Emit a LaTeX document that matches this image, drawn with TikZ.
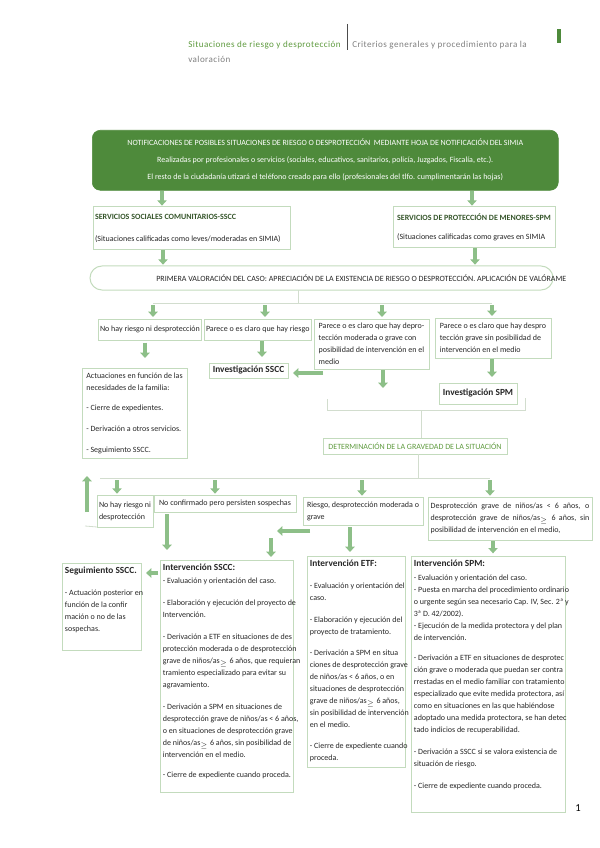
\documentclass[tikz,border=0pt]{standalone}
\usepackage{fontspec}
\setmainfont{Carlito}
\usepackage{xcolor}
\usepackage{amsmath}
\usepackage{amssymb}
\usepackage{tikz}
\usetikzlibrary{shapes,arrows.meta,positioning}

\definecolor{darkgreen}{HTML}{4E8A3B}
\definecolor{arrowgreen}{HTML}{8DBF88}
\definecolor{boxline}{HTML}{C3DBBD}
\definecolor{linkgray}{HTML}{D2DDCE}
\definecolor{headgreen}{HTML}{5E9A3E}
\definecolor{headgray}{HTML}{7F7F7F}
\definecolor{titlegreen}{HTML}{35552A}
\definecolor{txt}{HTML}{262626}

\begin{document}
\begin{tikzpicture}[x=0.75pt, y=-0.75pt, every node/.style={font=\fontsize{6}{9}\selectfont, text=txt}]
    \tikzstyle{box} = [rectangle, draw=boxline, line width=0.75pt, anchor=north west,
        align=left, inner sep=1.5pt, outer sep=0pt]
    \tikzstyle{txtblock} = [anchor=north west, align=left, inner xsep=2pt, inner ysep=2.5pt]
    \tikzstyle{header} = [anchor=west, inner sep=0pt, font=\fontsize{6.8}{9}\selectfont\addfontfeature{LetterSpace=5}]
    \tikzstyle{garrow} = [-{Triangle[width=7pt,length=4pt]}, line width=3pt, draw=arrowgreen]
    \tikzstyle{link} = [draw=linkgray, line width=0.6pt]
    \useasboundingbox (0,0) rectangle (599,848);

    % page header
    \node (hdrleft) [header, text=headgreen] at (188,45) {Situaciones de riesgo y desprotección};
    \node (hdrright) [header, text=headgray] at (352,45) {Criterios generales y procedimiento para la};
    \node (hdrnext) [header, text=headgray] at (188,59) {valoración};
    \coordinate (bartop) at (347,24);
    \coordinate (barbot) at (347,50);
    \draw [black!70, line width=0.75pt] (bartop) -- (barbot);
    \fill [darkgreen] (557,29) rectangle (561,43);

    % notification and services
    \node (notif) [rectangle, rounded corners=6pt, fill=darkgreen, draw=darkgreen, anchor=north west,
        minimum width=349.5pt, minimum height=45pt, align=center, text=white] at (92,130)
        {NOTIFICACIONES DE POSIBLES SITUACIONES DE RIESGO O DESPROTECCIÓN\ \ MEDIANTE HOJA DE NOTIFICACIÓN DEL SIMIA\\[3.75pt]
         Realizadas por profesionales o servicios (sociales, educativos, sanitarios, policía, Juzgados, Fiscalía, etc.).\\[3.75pt]
         El resto de la ciudadanía utizará el teléfono creado para ello (profesionales del tlfo. cumplimentarán las hojas)};
    \node (sscc) [box, align=flush left, text width=145pt, minimum height=32.25pt] at (93,207)
        {\textcolor{titlegreen}{\bfseries SERVICIOS SOCIALES COMUNITARIOS-SSCC}\\[7.5pt]
         (Situaciones calificadas como leves/moderadas en SIMIA)};
    \node (spm) [box, minimum width=121.5pt, minimum height=30.75pt] at (393,207)
        {\textcolor{titlegreen}{\bfseries SERVICIOS DE PROTECCIÓN DE MENORES-SPM}\\[5.25pt]
         (Situaciones calificadas como graves en SIMIA};
    \node (prim) [box, rounded corners=9pt, minimum width=347.25pt, minimum height=18pt] at (90,266) {};
    \node (primtxt) [right=49.5pt of prim.west, inner sep=0pt]
        {PRIMERA VALORACIÓN DEL CASO: APRECIACIÓN DE LA EXISTENCIA DE RIESGO O DESPROTECCIÓN. APLICACIÓN DE VALÓRAME};

    \draw [garrow, shorten >=1pt] (notif.south -| 162,0) -- (sscc.north -| 162,0);
    \draw [garrow, shorten >=1pt] (notif.south -| 472,0) -- (spm.north -| 472,0);
    \draw [garrow, shorten >=1pt] (sscc.south -| 163,0) -- (prim.north -| 163,0);
    \draw [garrow, shorten >=1pt] (spm.south -| 475,0) -- (prim.north -| 475,0);

    % first assessment
    \coordinate (split) at (298,303);
    \coordinate (splitl) at (153,303);
    \coordinate (splitr) at (492,303);
    \draw [link] (prim.south -| split) -- (split);
    \draw [link] (splitl) -- (splitr);

    \node (norisk) [box, minimum width=75pt, minimum height=15.75pt] at (98,319) {No hay riesgo ni desprotección};
    \node (risk) [box, minimum width=80.25pt, minimum height=15.75pt] at (204,319) {Parece o es claro que hay riesgo};
    \node (moderate) [box, minimum width=86.25pt, minimum height=37.5pt] at (314,319)
        {Parece o es claro que hay depro-\\tección moderada o grave con\\posibilidad de intervención en el\\medio};
    \node (severe) [box, minimum width=87pt, minimum height=30pt] at (435,318)
        {Parece o es claro que hay despro\\tección grave sin posibilidad de\\intervención en el medio};

    \draw [garrow, shorten <=1.5pt, shorten >=1.5pt] (splitl) -- (norisk.north -| splitl);
    \draw [garrow, shorten <=1.5pt, shorten >=1.5pt] (splitl -| 265,0) -- (risk.north -| 265,0);
    \draw [garrow, shorten <=1.5pt, shorten >=1.5pt] (splitl -| 382,0) -- (moderate.north -| 382,0);
    \draw [garrow, shorten <=1.5pt, shorten >=1.5pt] (splitr) -- (severe.north -| splitr);

    \node (actions) [box, minimum width=78.75pt, minimum height=67.5pt] at (82,368)
        {Actuaciones en función de las\\necesidades de la familia:\\[6.5pt]- Cierre de expedientes.\\[6.5pt]- Derivación a otros servicios.\\[6.5pt]- Seguimiento SSCC.};
    \node (invsscc) [box, minimum width=59.25pt, minimum height=11.25pt, font=\fontsize{7}{9}\selectfont\bfseries] at (209,363) {Investigación SSCC};
    \node (invspm) [box, minimum width=58.5pt, minimum height=15.75pt, font=\fontsize{7}{9}\selectfont\bfseries] at (439,383) {Investigación SPM};

    \draw [garrow, shorten <=2pt, shorten >=7.5pt] (norisk.south -| 145,0) -- (actions.north -| 145,0);
    \draw [garrow, shorten <=1pt, shorten >=4.5pt] (risk.south -| 262,0) -- (invsscc.north -| 262,0);
    \coordinate (modleft) at (323,373);
    \draw [garrow, shorten >=3.75pt] (modleft) -- (invsscc.east |- modleft);
    \coordinate (moddown) at (383,388);
    \draw [garrow, shorten <=1pt] (moddown |- moderate.south) -- (moddown);
    \draw [garrow, shorten <=1pt, shorten >=4.5pt] (severe.south -| 492,0) -- (invspm.north -| 492,0);

    % severity
    \coordinate (brl) at (327,399);
    \coordinate (brr) at (525,398);
    \coordinate (brc) at (421,410);
    \draw [link] (brl) -- (brl |- brc) -- (brr |- brc) -- (brr);
    \node (gravity) [box, minimum width=138pt, minimum height=12pt, text=headgreen] at (323,438) {DETERMINACIÓN DE LA GRAVEDAD DE LA SITUACIÓN};
    \draw [link] (brc) -- (gravity.north -| brc);

    \coordinate (fork) at (418,478);
    \coordinate (forkl) at (100,478);
    \coordinate (forkr) at (490,478);
    \draw [link] (gravity.south -| fork) -- (fork);
    \draw [link] (forkl) -- (forkr);

    \node (confirmno) [box, minimum width=42pt, minimum height=24pt] at (97,495) {No hay riesgo ni\\desprotección};
    \node (persist) [box, minimum width=106.5pt, minimum height=12.75pt] at (154,495) {No confirmado pero persisten sospechas};
    \node (riskmod) [box, minimum width=90pt, minimum height=21pt] at (303,497) {Riesgo, desprotección moderada o\\grave};
    \node (severe6) [box, minimum width=123pt, minimum height=32.25pt] at (428,497)
        {\makebox[119pt][s]{Desprotección grave de niños/as < 6 años, o}\\\makebox[119pt][s]{desprotección grave de niños/as$_\geq$ 6 años, sin}\\posibilidad de intervención en el medio,};

    \draw [garrow, shorten <=1.5pt, shorten >=1pt] (forkl -| 117,0) -- (confirmno.north -| 117,0);
    \draw [garrow, shorten <=1.5pt, shorten >=1pt] (forkl -| 215,0) -- (persist.north -| 215,0);
    \draw [garrow, shorten <=1.5pt, shorten >=1pt] (forkl -| 362,0) -- (riskmod.north -| 362,0);
    \draw [garrow, shorten <=1.5pt, shorten >=1pt] (forkr) -- (severe6.north -| forkr);

    \coordinate (backend) at (85,526);
    \draw [link] (confirmno.south west) -- (backend);
    \coordinate (backlow) at (87,512);
    \coordinate (backup) at (87,476);
    \draw [garrow] (backlow) -- (backup);

    % interventions
    \node (follow) [box, minimum width=59.25pt, minimum height=65.25pt] at (62,563) {};
    \node (followtxt) [txtblock] at (follow.north west)
        {{\bfseries\fontsize{7}{9}\selectfont Seguimiento SSCC.}\\[8pt]- Actuación posterior en\\función de la confir\\mación o no de las\\sospechas.};

    \node (isscc) [box, minimum width=99.75pt, minimum height=174pt] at (160,560) {};
    \node (issccxt) [txtblock] at (isscc.north west)
        {{\bfseries\fontsize{7}{9}\selectfont Intervención SSCC:}\\[0.75pt]
         - Evaluación y orientación del caso.\\[7.5pt]
         - Elaboración y ejecución del proyecto de\\
         Intervención.\\[7.5pt]
         - Derivación a ETF en situaciones de des\\
         protección moderada o de desprotección\\
         grave de niños/as$_\geq$ 6 años, que requieran\\
         tramiento especializado para evitar su\\
         agravamiento.\\[7.5pt]
         - Derivación a SPM en situaciones de\\
         desprotección grave de niños/as < 6 años,\\
         o en situaciones de desprotección grave\\
         de niños/as$_\geq$ 6 años, sin posibilidad de\\
         intervención en el medio.\\[6pt]
         - Cierre de expediente cuando proceda.};

    \node (ietf) [box, minimum width=73.5pt, minimum height=158.25pt] at (307,556) {};
    \node (ietftxt) [txtblock] at (ietf.north west)
        {{\bfseries\fontsize{7}{9}\selectfont Intervención ETF:}\\[7.5pt]
         - Evaluación y orientación del\\
         caso.\\[7.5pt]
         - Elaboración y ejecución del\\
         proyecto de tratamiento.\\[7pt]
         - Derivación a SPM en situa\\
         ciones de desprotección grave\\
         de niños/as < 6 años, o en\\
         situaciones de desprotección\\
         grave de niños/as$_\geq$ 6 años,\\
         sin posibilidad de intervención\\
         en el medio.\\[7pt]
         - Cierre de expediente cuando\\
         proceda.};

    \node (ispm) [box, minimum width=115.5pt, minimum height=192pt] at (411,556) {};
    \node (ispmtxt) [txtblock] at (ispm.north west)
        {{\bfseries\fontsize{7}{9}\selectfont Intervención SPM:}\\[1.5pt]
         - Evaluación y orientación del caso.\\
         - Puesta en marcha del procedimiento ordinario\\
         o urgente según sea necesario Cap. IV, Sec. 2ª y\\
         3ª D. 42/2002).\\
         - Ejecución de la medida protectora y del plan\\
         de intervención.\\[6pt]
         - Derivación a ETF en situaciones de desprotec\\
         ción grave o moderada que puedan ser contra\\
         rrestadas en el medio familiar con tratamiento\\
         especializado que evite medida protectora, así\\
         como en situaciones en las que habiéndose\\
         adoptado una medida protectora, se han detec\\
         tado indicios de recuperabilidad.\\[7.5pt]
         - Derivación a SSCC si se valora existencia de\\
         situación de riesgo.\\[7.5pt]
         - Cierre de expediente cuando proceda.};

    \draw [garrow, shorten <=1.5pt, shorten >=7.5pt] (persist.south -| 167,0) -- (isscc.north -| 167,0);
    \coordinate (riskleft) at (310,531);
    \coordinate (riskleftend) at (277,531);
    \draw [garrow] (riskleft) -- (riskleftend);
    \coordinate (ssccdrop) at (271,538);
    \draw [garrow, shorten >=2.25pt] (ssccdrop) -- (isscc.north -| ssccdrop);
    \draw [garrow, shorten <=1.5pt, shorten >=3pt] (riskmod.south -| 350,0) -- (ietf.north -| 350,0);
    \draw [garrow, shorten <=0.75pt, shorten >=2pt] (severe6.south -| 493,0) -- (ispm.north -| 493,0);
    \draw [garrow, shorten <=1.5pt, shorten >=3.75pt] (isscc.west |- 0,573) -- (follow.east |- 0,573);

    \node (pagenum) [font=\fontsize{8}{9}\selectfont, text=black] at (578,808) {1};
\end{tikzpicture}
\end{document}
